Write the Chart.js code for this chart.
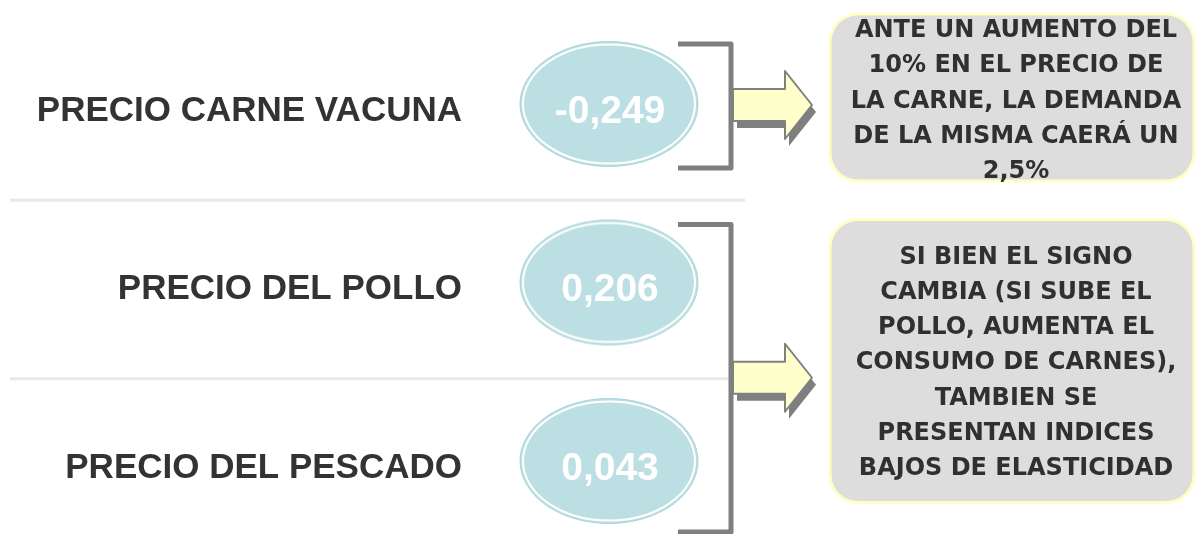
<!DOCTYPE html>
<html>
<head>
<meta charset="utf-8">
<script src="https://cdn.jsdelivr.net/npm/chart.js@4.4.0/dist/chart.umd.min.js"></script>
<style>
  html, body { margin: 0; padding: 0; background: #fff; }
</style>
</head>
<body>
<canvas id="myChart" width="1196" height="534"></canvas>
<script>
const categories = ['PRECIO CARNE VACUNA', 'PRECIO DEL POLLO', 'PRECIO DEL PESCADO'];
const elasticities = [-0.249, 0.206, 0.043];
const noteTop = ['ANTE UN AUMENTO DEL', '10% EN EL PRECIO DE', 'LA CARNE, LA DEMANDA', 'DE LA MISMA CAERÁ UN', '2,5%'];
const noteBottom = ['SI BIEN EL SIGNO', 'CAMBIA (SI SUBE EL', 'POLLO, AUMENTA EL', 'CONSUMO DE CARNES),', 'TAMBIEN SE', 'PRESENTAN INDICES', 'BAJOS DE ELASTICIDAD'];

// oval used as point style
function makeOval() {
    const c = document.createElement('canvas');
    c.width = 184;
    c.height = 144;
    const g = c.getContext('2d');
    g.beginPath();
    g.ellipse(92, 65, 89, 62.5, 0, 0, Math.PI * 2);
    g.fillStyle = '#bcdfe3';
    g.fill();
    g.strokeStyle = '#a9d5da';
    g.lineWidth = 1;
    g.stroke();
    g.beginPath();
    g.ellipse(92, 65, 86, 59.5, 0, 0, Math.PI * 2);
    g.strokeStyle = '#ffffff';
    g.lineWidth = 2;
    g.stroke();
    return c;
}

function drawArrow(ctx, x0, cy, x1, xt) {
    const pts = [[x0, cy - 16], [x1, cy - 16], [x1, cy - 34], [xt, cy], [x1, cy + 34], [x1, cy + 16], [x0, cy + 16]];
    const path = (dx, dy) => {
        ctx.beginPath();
        pts.forEach((p, i) => i ? ctx.lineTo(p[0] + dx, p[1] + dy) : ctx.moveTo(p[0] + dx, p[1] + dy));
        ctx.closePath();
    };
    path(4, 7);
    ctx.fillStyle = '#7f7f7f';
    ctx.fill();
    path(0, 0);
    ctx.fillStyle = '#ffffcc';
    ctx.fill();
    ctx.strokeStyle = '#808080';
    ctx.lineWidth = 2;
    ctx.stroke();
}

function drawNote(ctx, x, y, w, h, lines, firstY) {
    ctx.beginPath();
    ctx.roundRect(x, y, w, h, 28);
    ctx.fillStyle = '#dddddd';
    ctx.fill();
    ctx.strokeStyle = '#ffffc4';
    ctx.lineWidth = 3;
    ctx.stroke();
    ctx.fillStyle = '#303030';
    ctx.font = 'bold 24px "DejaVu Sans"';
    ctx.textAlign = 'center';
    ctx.textBaseline = 'middle';
    lines.forEach((t, i) => ctx.fillText(t, x + w / 2 + 4, firstY + i * 35.2));
}

const decorations = {
    id: 'decorations',
    beforeDatasetsDraw(chart) {
        const ctx = chart.ctx;
        const pts = chart.getDatasetMeta(0).data;
        const cx = pts[0].x;
        const y0 = pts[0].y, y1 = pts[1].y, y2 = pts[2].y;
        ctx.save();
        // separators between rows
        ctx.strokeStyle = '#e8e8e8';
        ctx.lineWidth = 3;
        ctx.beginPath();
        ctx.moveTo(10, (y0 + y1) / 2);
        ctx.lineTo(cx + 136, (y0 + y1) / 2);
        ctx.moveTo(10, (y1 + y2) / 2);
        ctx.lineTo(cx + 120, (y1 + y2) / 2);
        ctx.stroke();
        // brackets
        const bx = cx + 122;
        ctx.strokeStyle = '#7f7f7f';
        ctx.lineWidth = 5;
        ctx.lineJoin = 'round';
        ctx.beginPath();
        ctx.moveTo(cx + 69, y0 - 67);
        ctx.lineTo(bx, y0 - 67);
        ctx.lineTo(bx, y0 + 57);
        ctx.lineTo(cx + 69, y0 + 57);
        ctx.moveTo(cx + 69, y1 - 65);
        ctx.lineTo(bx, y1 - 65);
        ctx.lineTo(bx, y2 + 64);
        ctx.lineTo(cx + 69, y2 + 64);
        ctx.stroke();
        // arrows
        drawArrow(ctx, bx + 2, y0 - 6, bx + 54, bx + 81);
        drawArrow(ctx, bx + 2, (y1 + y2) / 2 - 1, bx + 54, bx + 81);
        // notes
        drawNote(ctx, 830, y0 - 97, 364, 167, noteTop, y0 - 80);
        drawNote(ctx, 830, y1 - 70, 364, 283, noteBottom, y1 - 32);
        ctx.restore();
    },
    afterDatasetsDraw(chart) {
        const ctx = chart.ctx;
        ctx.save();
        ctx.fillStyle = '#ffffff';
        ctx.font = 'bold 39px "Liberation Sans", Arial, sans-serif';
        ctx.textAlign = 'center';
        ctx.textBaseline = 'middle';
        chart.getDatasetMeta(0).data.forEach((p, i) => {
            ctx.fillText(elasticities[i].toFixed(3).replace('.', ','), p.x + 1, p.y + 1);
        });
        ctx.restore();
    }
};

const oval = makeOval();
const ctx = document.getElementById('myChart').getContext('2d');
const myChart = new Chart(ctx, {
    type: 'scatter',
    data: {
        datasets: [{
            label: 'Elasticidad',
            data: categories.map((c, i) => ({ x: 0, y: c, v: elasticities[i] })),
            pointStyle: oval,
            clip: false
        }]
    },
    options: {
        responsive: false,
        devicePixelRatio: 1,
        animation: false,
        layout: { padding: { top: 111, bottom: 66, left: 0, right: 448 } },
        plugins: { legend: { display: false }, tooltip: { enabled: false } },
        scales: {
            x: { type: 'linear', min: -1, max: 1, display: false },
            y: {
                type: 'category',
                labels: categories,
                grid: { display: false, drawTicks: false },
                border: { display: false },
                ticks: {
                    padding: 8,
                    color: '#333333',
                    font: { family: '"Liberation Sans", Arial, sans-serif', size: 35, weight: 'bold' }
                },
                afterFit(scale) { scale.width = 470; }
            }
        }
    },
    plugins: [decorations]
});
</script>
</body>
</html>
